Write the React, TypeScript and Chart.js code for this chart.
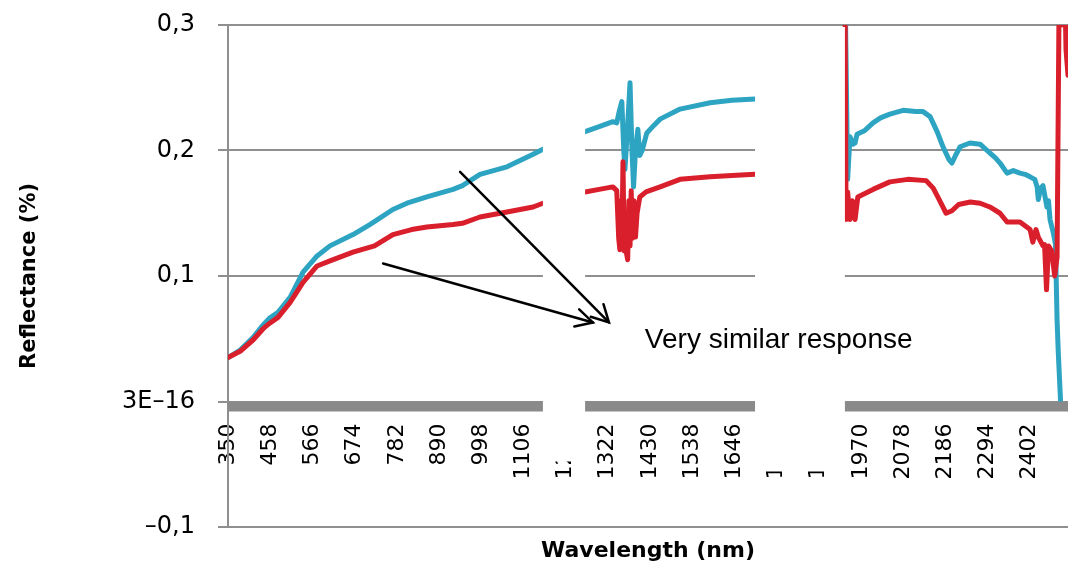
import React, { useEffect, useRef } from "react";
import { Chart, registerables } from "chart.js";

Chart.register(...registerables);

// ---- Data (wavelength in nm, reflectance) ----
const blueWavelengths = [
  350, 381, 414, 440, 455, 478, 509, 542, 578, 611, 670, 713, 772, 808, 859, 926, 950, 995, 1064, 1131, 1156,
  1200,
  1264, 1300, 1335, 1345, 1352, 1358, 1363, 1366, 1372, 1379, 1384, 1388, 1393, 1399, 1404, 1410, 1422, 1440, 1456, 1507, 1584, 1640, 1699,
  1800,
  1929, 1936, 1942, 1950, 1955, 1960, 1980, 2001, 2020, 2044, 2078, 2110, 2129, 2147, 2165, 2180, 2195, 2203, 2212, 2224, 2249, 2275,
  2300, 2315, 2326, 2344, 2360, 2377, 2390, 2403, 2415, 2421, 2424, 2430, 2436, 2446, 2450, 2454, 2462, 2468, 2472, 2475, 2481,
];
const blueReflectance = [
  0.035, 0.041, 0.051, 0.061, 0.066, 0.071, 0.083, 0.103, 0.116, 0.124, 0.133, 0.141, 0.153, 0.158, 0.163, 0.169, 0.172, 0.181, 0.187, 0.197, 0.201,
  null,
  0.215, 0.219, 0.223, 0.222, 0.232, 0.239, 0.200, 0.185, 0.215, 0.254, 0.200, 0.171, 0.200, 0.217, 0.196, 0.200, 0.214, 0.220, 0.225, 0.233, 0.238, 0.240, 0.241,
  null,
  0.34, 0.177, 0.211, 0.205, 0.206, 0.213, 0.216, 0.222, 0.226, 0.229, 0.232, 0.231, 0.231, 0.227, 0.215, 0.203, 0.193, 0.190, 0.196, 0.203, 0.206, 0.205,
  0.198, 0.194, 0.190, 0.182, 0.184, 0.182, 0.181, 0.179, 0.177, 0.171, 0.161, 0.170, 0.172, 0.155, 0.160, 0.145, 0.135, 0.125, 0.065, 0.04, 0.0,
];

const redWavelengths = [
  350, 381, 414, 440, 455, 478, 509, 542, 578, 611, 670, 725, 772, 820, 859, 926, 950, 995, 1064, 1131, 1156,
  1200,
  1264, 1300, 1335, 1345, 1350, 1353, 1356, 1358, 1361, 1364, 1367, 1370, 1373, 1376, 1379, 1382, 1385, 1389, 1393, 1397, 1404, 1420, 1456, 1507, 1584, 1640, 1699,
  1800,
  1929, 1932, 1936, 1942, 1948, 1955, 1962, 2001, 2044, 2090, 2137, 2155, 2170, 2188, 2203, 2220, 2250, 2275, 2300, 2326, 2344, 2377,
  2403, 2410, 2418, 2424, 2436, 2440, 2445, 2450, 2458, 2466, 2472, 2478, 2485, 2490, 2495, 2500,
];
const redReflectance = [
  0.035, 0.040, 0.049, 0.058, 0.062, 0.067, 0.079, 0.095, 0.108, 0.112, 0.119, 0.124, 0.133, 0.137, 0.139, 0.141, 0.142, 0.147, 0.151, 0.155, 0.158,
  null,
  0.167, 0.169, 0.171, 0.168, 0.130, 0.121, 0.160, 0.125, 0.191, 0.120, 0.150, 0.118, 0.113, 0.160, 0.124, 0.168, 0.130, 0.160, 0.131, 0.150, 0.163, 0.167, 0.171, 0.177, 0.179, 0.180, 0.181,
  null,
  0.34, 0.145, 0.167, 0.145, 0.160, 0.145, 0.163, 0.169, 0.175, 0.177, 0.176, 0.170, 0.161, 0.150, 0.152, 0.157, 0.159, 0.158, 0.155, 0.150, 0.143, 0.143,
  0.137, 0.127, 0.137, 0.131, 0.124, 0.125, 0.089, 0.124, 0.120, 0.100, 0.115, 0.35, 0.30, 0.36, 0.28, 0.26,
];

const xTickValues = [350, 458, 566, 674, 782, 890, 998, 1106, 1214, 1322, 1430, 1538, 1646, 1754, 1862, 1970, 2078, 2186, 2294, 2402];
const xTickLabels = ["350", "458", "566", "674", "782", "890", "998", "1106", "1214", "1322", "1430", "1538", "1646", "1754", "1862", "1970", "2078", "2186", "2294", "2402"];
const yTickValues = [-0.1, 0, 0.1, 0.2, 0.3];
const yTickLabels = ["–0,1", "3E–16", "0,1", "0,2", "0,3"];

// masked water-absorption bands [start, end] in nm
const gapStarts = [1156, 1699];
const gapEnds = [1264, 1929];

// annotation: arrows [fromNm, fromVal, toNm, toVal]
const arrowFromNm = [944, 747];
const arrowFromVal = [0.183, 0.110];
const arrowToNm = [1325, 1284];
const arrowToVal = [0.063, 0.063];
const annotationText = "Very similar response";
const annotationNm = 1417;
const annotationVal = 0.0485;

const BLUE = "#2ea4c3";
const RED = "#d91f2b";
const GRID = "#8f8f8f";
const BAND = "#8a8a8a";

const maskDepths = [60, 70];

const overlayPlugin = {
  id: "overlay",
  afterDraw(chart: any) {
    const { ctx, chartArea } = chart;
    const xs = chart.scales.x;
    const ys = chart.scales.y;
    const y0 = ys.getPixelForValue(0);
    const yTop = ys.getPixelForValue(0.3) + 2;
    ctx.save();
    // thick axis band at zero
    ctx.fillStyle = BAND;
    ctx.fillRect(chartArea.left, y0, chartArea.right - chartArea.left, 10);
    // white masks over removed bands
    ctx.fillStyle = "#ffffff";
    gapStarts.forEach((s, i) => {
      const xa = xs.getPixelForValue(s);
      const xb = xs.getPixelForValue(gapEnds[i]);
      ctx.fillRect(xa, yTop, xb - xa, y0 + maskDepths[i] - yTop);
    });
    // arrows
    ctx.strokeStyle = "#000";
    ctx.lineWidth = 2.5;
    ctx.lineCap = "round";
    arrowFromNm.forEach((fx, i) => {
      const x1 = xs.getPixelForValue(fx);
      const y1 = ys.getPixelForValue(arrowFromVal[i]);
      const x2 = xs.getPixelForValue(arrowToNm[i]);
      const y2 = ys.getPixelForValue(arrowToVal[i]);
      ctx.beginPath();
      ctx.moveTo(x1, y1);
      ctx.lineTo(x2, y2);
      ctx.stroke();
      const ang = Math.atan2(y1 - y2, x1 - x2);
      const len = 19;
      const spread = (28 * Math.PI) / 180;
      ctx.beginPath();
      ctx.moveTo(x2 + len * Math.cos(ang - spread), y2 + len * Math.sin(ang - spread));
      ctx.lineTo(x2, y2);
      ctx.lineTo(x2 + len * Math.cos(ang + spread), y2 + len * Math.sin(ang + spread));
      ctx.stroke();
    });
    // annotation text
    ctx.fillStyle = "#000";
    ctx.font = '28px "Liberation Sans", Arial, sans-serif';
    ctx.textAlign = "left";
    ctx.textBaseline = "middle";
    ctx.fillText(annotationText, xs.getPixelForValue(annotationNm), ys.getPixelForValue(annotationVal));
    ctx.restore();
  },
};

function toPoints(wl: number[], vals: (number | null)[]) {
  return wl.map((w, i) => ({ x: w, y: vals[i] }));
}

export default function App() {
  const canvasRef = useRef<HTMLCanvasElement | null>(null);

  useEffect(() => {
    if (!canvasRef.current) return;
    Chart.defaults.font.family = '"DejaVu Sans", sans-serif';
    Chart.defaults.color = "#000";
    const chart = new Chart(canvasRef.current, {
      type: "line",
      data: {
        datasets: [
          {
            label: "Red",
            data: toPoints(redWavelengths, redReflectance) as any,
            borderColor: RED,
            borderWidth: 5,
            pointRadius: 0,
            tension: 0,
            spanGaps: false,
            borderJoinStyle: "round",
            borderCapStyle: "round",
          },
          {
            label: "Blue",
            data: toPoints(blueWavelengths, blueReflectance) as any,
            borderColor: BLUE,
            borderWidth: 5,
            pointRadius: 0,
            tension: 0,
            spanGaps: false,
            borderJoinStyle: "round",
            borderCapStyle: "round",
          },
        ],
      },
      options: {
        animation: false,
        responsive: true,
        maintainAspectRatio: false,
        layout: { padding: { top: 25, right: 2, left: 0, bottom: 0 } },
        plugins: { legend: { display: false }, tooltip: { enabled: false } },
        scales: {
          x: {
            type: "linear",
            position: { y: 0 } as any,
            min: 350,
            max: 2500,
            afterBuildTicks: (axis: any) => {
              axis.ticks = xTickValues.map((v) => ({ value: v }));
            },
            afterFit: (scale: any) => {
              scale.paddingLeft = 0;
              scale.paddingRight = 0;
              scale.paddingTop = 0;
              scale.paddingBottom = 0;
            },
            ticks: {
              autoSkip: false,
              minRotation: 90,
              maxRotation: 90,
              padding: 22,
              font: { size: 22 },
              color: "#000",
              callback: (v: any) => {
                const i = xTickValues.indexOf(Number(v));
                return i >= 0 ? xTickLabels[i] : "";
              },
            },
            grid: { display: false, drawTicks: false },
            border: { display: false },
          },
          x2: {
            type: "linear",
            position: "bottom",
            min: 350,
            max: 2500,
            ticks: { display: false },
            grid: { display: false, drawTicks: false },
            border: { display: false },
            afterFit: (scale: any) => {
              scale.paddingLeft = 0;
              scale.paddingRight = 0;
            },
            title: {
              display: true,
              text: "Wavelength (nm)",
              font: { size: 22, weight: "bold" },
              color: "#000",
              padding: { top: 10.6, bottom: 4 },
            },
          },
          y: {
            type: "linear",
            min: -0.1,
            max: 0.3,
            afterFit: (scale: any) => {
              scale.width = 228;
              scale.paddingTop = 0;
              scale.paddingBottom = 0;
            },
            afterBuildTicks: (axis: any) => {
              axis.ticks = yTickValues.map((v) => ({ value: v }));
            },
            ticks: {
              padding: 23,
              font: { size: 24 },
              color: "#000",
              callback: (v: any) => {
                const i = yTickValues.findIndex((t) => Math.abs(t - Number(v)) < 1e-9);
                return i >= 0 ? yTickLabels[i] : "";
              },
            },
            grid: { color: GRID, lineWidth: 2, tickLength: 10, drawTicks: true, tickColor: GRID },
            border: { display: true, color: GRID, width: 2 },
            title: {
              display: true,
              text: "Reflectance (%)",
              font: { size: 21, weight: "bold" },
              color: "#000",
              padding: { top: 17, bottom: 0 },
            },
          },
        },
      },
      plugins: [overlayPlugin],
    });
    return () => chart.destroy();
  }, []);

  return (
    <div style={{ position: "absolute", left: 0, top: 0, width: 1070, height: 568, background: "#fff" }}>
      <canvas ref={canvasRef} />
    </div>
  );
}
